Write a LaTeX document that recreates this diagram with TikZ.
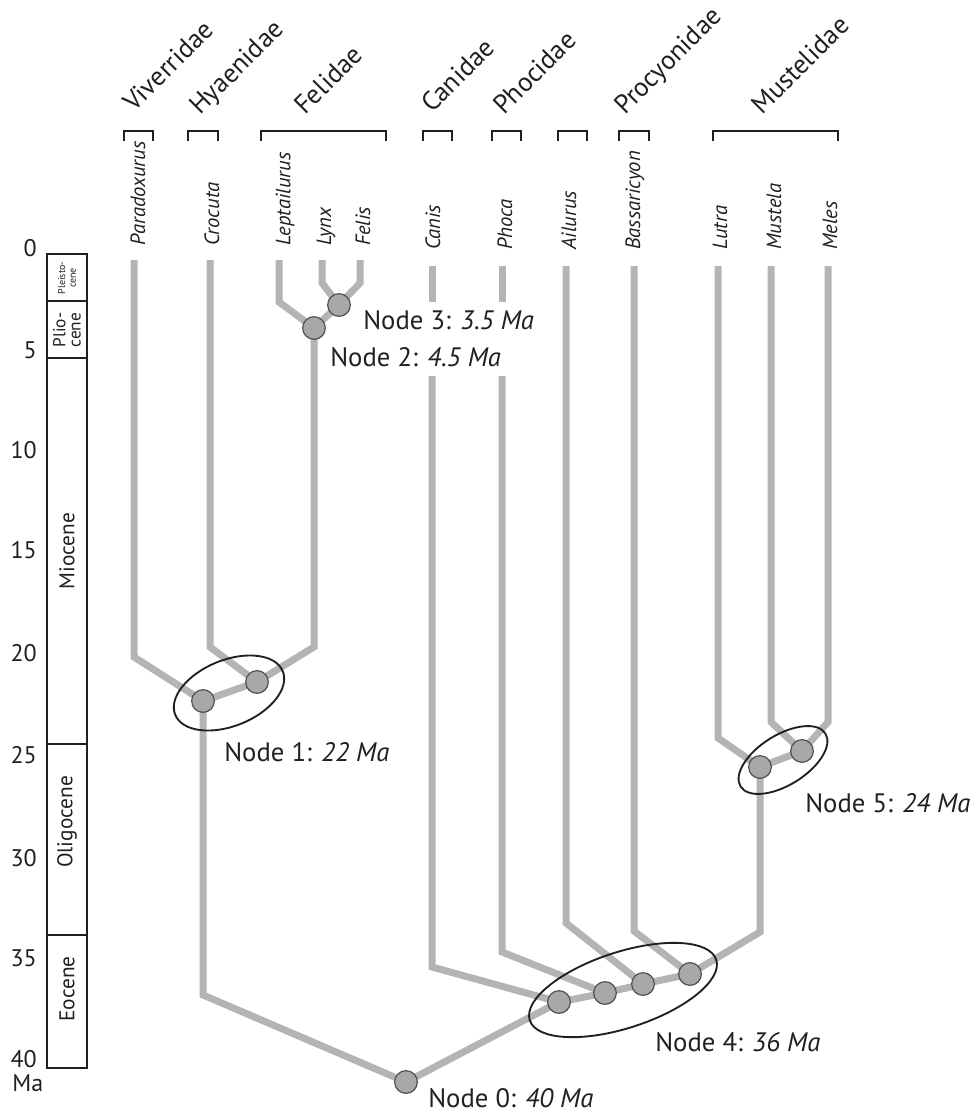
\documentclass[tikz,border=0pt]{standalone}
\usepackage{fontspec}
\setmainfont{PT Sans}
\definecolor{branch}{RGB}{180,180,180}
\definecolor{nodefill}{RGB}{168,168,168}
\definecolor{nodeline}{RGB}{80,80,80}
\definecolor{ink}{RGB}{35,31,32}
\pgfdeclarelayer{bg}
\pgfdeclarelayer{paper}
\pgfsetlayers{paper,bg,main}
\begin{document}
\begin{tikzpicture}[x=0.75pt,y=-0.75pt,
  br/.style={draw=branch,line width=5.25pt,line join=miter},
  dot/.style={circle,fill=nodefill,draw=nodeline,line width=0.9pt,minimum size=17pt,inner sep=0pt},
  ring/.style={draw=ink,line width=1.4pt},
  fam/.style={rotate=45,anchor=base west,inner sep=0pt,font=\fontsize{20}{22}\selectfont,text=ink},
  spc/.style={rotate=90,anchor=west,inner sep=0pt,font=\fontsize{15.5}{17}\selectfont\itshape,text=ink},
  lbl/.style={anchor=west,inner sep=0pt,font=\fontsize{20}{22}\selectfont,text=ink},
  tck/.style={anchor=east,inner sep=0pt,font=\fontsize{18}{20}\selectfont,text=ink},
  epoch/.style={rotate=90,inner sep=0pt,text=ink,align=center,font=\fontsize{16}{18}\selectfont},
  brk/.style={draw=ink,line width=1.5pt},
  scalebox/.style={draw=ink,line width=1.3pt},
]
\begin{pgfonlayer}{paper}
\fill[white] (0,0) rectangle (974,1114);
\end{pgfonlayer}
\useasboundingbox (0,0) rectangle (974,1114);

% ---------- time scale ----------
\draw[scalebox] (47,254) rectangle (87,1068);
\draw[scalebox] (47,301) -- (87,301);
\draw[scalebox] (47,358) -- (87,358);
\draw[scalebox] (47,744) -- (87,744);
\draw[scalebox] (47,935) -- (87,935);
\node[epoch,font=\fontsize{7.5}{8}\selectfont] (ePle) at (67,278) {Pleisto-\\cene};
\node[epoch,font=\fontsize{13}{11.5}\selectfont] (ePli) at (67,330) {Plio-\\cene};
\node[epoch] (eMio) at (67,551) {Miocene};
\node[epoch] (eOli) at (67,822) {Oligocene};
\node[epoch] (eEoc) at (67,989) {Eocene};
\node[tck] (t0) at (37,248) {0};
\node[tck] (t5) at (37,350) {5};
\node[tck] (t10) at (37,450) {10};
\node[tck] (t15) at (37,550) {15};
\node[tck] (t20) at (37,653) {20};
\node[tck] (t25) at (37,755) {25};
\node[tck] (t30) at (37,858) {30};
\node[tck] (t35) at (37,958) {35};
\node[tck] (t40) at (37,1059) {40};
\node[tck,anchor=west] (tMa) at (12,1083) {Ma};

% ---------- family brackets ----------
\draw[brk] (124,141) -- (124,131) -- (153,131) -- (153,141);
\draw[brk] (188,141) -- (188,131) -- (218,131) -- (218,141);
\draw[brk] (261,141) -- (261,131) -- (386,131) -- (386,141);
\draw[brk] (423,141) -- (423,131) -- (452,131) -- (452,141);
\draw[brk] (492,141) -- (492,131) -- (521,131) -- (521,141);
\draw[brk] (558,141) -- (558,131) -- (587,131) -- (587,141);
\draw[brk] (619,141) -- (619,131) -- (649,131) -- (649,141);
\draw[brk] (713,141) -- (713,131) -- (838,131) -- (838,141);
\node[fam] (fViv) at (134,113) {Viverridae};
\node[fam] (fHya) at (200,116) {Hyaenidae};
\node[fam] (fFel) at (305,116) {Felidae};
\node[fam] (fCan) at (432,114) {Canidae};
\node[fam] (fPho) at (504,116) {Phocidae};
\node[fam] (fPro) at (625,116) {Procyonidae};
\node[fam] (fMus) at (762,116) {Mustelidae};

% ---------- species ----------
\node[spc] (sPar) at (138,246) {Paradoxurus};
\node[spc] (sCro) at (212,246) {Crocuta};
\node[spc] (sLep) at (285,246) {Leptailurus};
\node[spc] (sLyn) at (326,246) {Lynx};
\node[spc] (sFel) at (363,246) {Felis};
\node[spc] (sCan) at (433,250) {Canis};
\node[spc] (sPho) at (505,250) {Phoca};
\node[spc] (sAil) at (569,250) {Ailurus};
\node[spc] (sBas) at (635,250) {Bassaricyon};
\node[spc] (sLut) at (720,250) {Lutra};
\node[spc] (sMus) at (774,250) {Mustela};
\node[spc] (sMel) at (830,250) {Meles};

% ---------- tree nodes ----------
\node[dot] (n3) at (339,305) {};
\node[dot] (n2) at (314,328) {};
\node[dot] (n1b) at (257,682) {};
\node[dot] (n1a) at (203,701) {};
\node[dot] (n5b) at (802,751) {};
\node[dot] (n5a) at (760,767) {};
\node[dot] (n4d) at (690,974) {};
\node[dot] (n4c) at (643,984) {};
\node[dot] (n4b) at (605,993) {};
\node[dot] (n4a) at (559,1002) {};
\node[dot] (n0) at (406,1082) {};

% bend coordinates
\coordinate (tPar) at (134,260); \coordinate (bPar) at (134,657);
\coordinate (tCro) at (210,260); \coordinate (bCro) at (210,647);
\coordinate (tLep) at (279,260); \coordinate (bLep) at (279,302);
\coordinate (tLyn) at (322,260); \coordinate (bLyn) at (322,283);
\coordinate (tFel) at (360,260); \coordinate (bFel) at (360,283);
\coordinate (bFeli) at (314,647);
\coordinate (bHy) at (203,995);
\coordinate (tCan) at (432,266); \coordinate (gCanA) at (432,302);
\coordinate (gCanB) at (432,376); \coordinate (bCan) at (432,967);
\coordinate (tPho) at (502,266); \coordinate (gPhoA) at (502,302);
\coordinate (gPhoB) at (502,376); \coordinate (bPho) at (502,952);
\coordinate (tAil) at (566,266); \coordinate (bAil) at (566,923);
\coordinate (tBas) at (634,266); \coordinate (bBas) at (634,931);
\coordinate (tLut) at (718,266); \coordinate (bLut) at (718,738);
\coordinate (tMus) at (771,266); \coordinate (bMus) at (771,722);
\coordinate (tMel) at (828,266); \coordinate (bMel) at (828,722);
\coordinate (bMst) at (760,932);

\begin{pgfonlayer}{bg}
\draw[br] (tLyn) -- (bLyn) -- (n3.center);
\draw[br] (tFel) -- (bFel) -- (n3.center);
\draw[br] (tLep) -- (bLep) -- (n2.center);
\draw[br] (n3.center) -- (n2.center);
\draw[br] (n2.center) -- (bFeli) -- (n1b.center);
\draw[br] (tCro) -- (bCro) -- (n1b.center);
\draw[br] (tPar) -- (bPar) -- (n1a.center);
\draw[br] (n1b.center) -- (n1a.center);
\draw[br] (n1a.center) -- (bHy) -- (n0.center);
\draw[br] (tCan) -- (gCanA);
\draw[br] (gCanB) -- (bCan) -- (n4a.center);
\draw[br] (tPho) -- (gPhoA);
\draw[br] (gPhoB) -- (bPho) -- (n4b.center);
\draw[br] (tAil) -- (bAil) -- (n4c.center);
\draw[br] (tBas) -- (bBas) -- (n4d.center);
\draw[br] (tLut) -- (bLut) -- (n5a.center);
\draw[br] (tMus) -- (bMus) -- (n5b.center);
\draw[br] (tMel) -- (bMel) -- (n5b.center);
\draw[br] (n5b.center) -- (n5a.center);
\draw[br] (n5a.center) -- (bMst) -- (n4d.center);
\draw[br] (n4d.center) -- (n4c.center) -- (n4b.center) -- (n4a.center) -- (n0.center);
\end{pgfonlayer}

% ---------- rings ----------
\draw[ring,rotate around={22:(229,693)}] (229,693) ellipse [x radius=58, y radius=33];
\draw[ring,rotate around={18:(623,990)}] (623,990) ellipse [x radius=98, y radius=38];
\draw[ring,rotate around={32:(783,760)}] (783,760) ellipse [x radius=50, y radius=25];

% ---------- labels ----------
\node[lbl] (l3) at (363,320) {Node 3: \textit{3.5 Ma}};
\node[lbl] (l2) at (330,357) {Node 2: \textit{4.5 Ma}};
\node[lbl] (l1) at (224,752) {Node 1: \textit{22 Ma}};
\node[lbl] (l5) at (805,803) {Node 5: \textit{24 Ma}};
\node[lbl] (l4) at (655,1042) {Node 4: \textit{36 Ma}};
\node[lbl] (l0) at (428,1098) {Node 0: \textit{40 Ma}};
\end{tikzpicture}
\end{document}
